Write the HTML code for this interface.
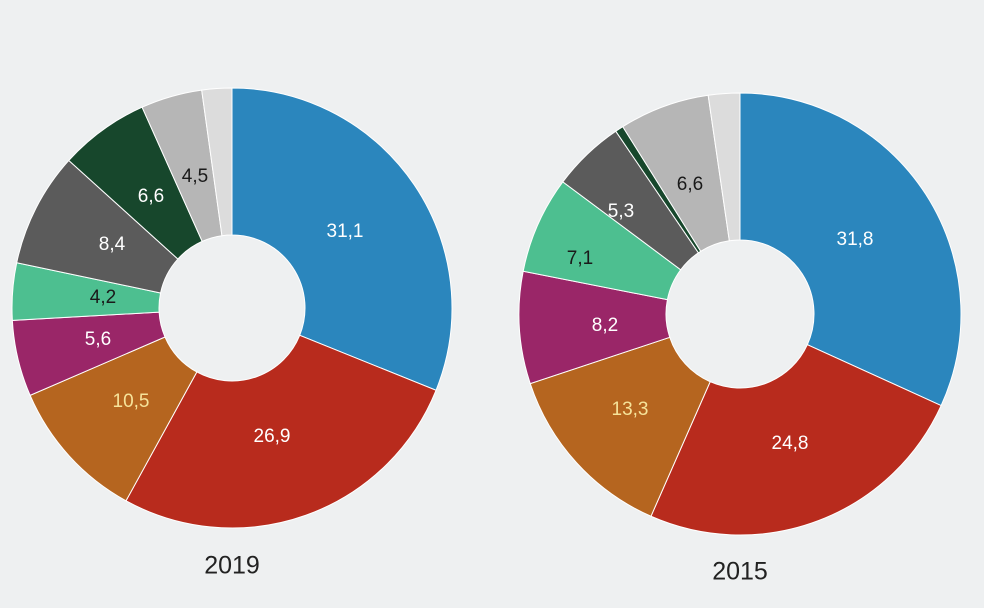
<!DOCTYPE html>
<html><head><meta charset="utf-8"><style>
html,body{margin:0;padding:0;background:#eef0f1;}
svg{display:block}
text{font-family:"Liberation Sans",sans-serif;}
</style></head><body>
<svg id="s" width="984" height="608" viewBox="0 0 984 608">
<rect width="984" height="608" fill="#eef0f1"/>
<g id="g"></g>
<g font-size="19" text-anchor="middle" dominant-baseline="middle">
<text x="345" y="232" fill="#fff">31,1</text>
<text x="272" y="437" fill="#fff">26,9</text>
<text x="131" y="402" fill="#f6e39a">10,5</text>
<text x="98" y="340" fill="#fff">5,6</text>
<text x="103" y="298" fill="#1a1a1a">4,2</text>
<text x="112" y="245" fill="#fff">8,4</text>
<text x="151" y="197" fill="#fff">6,6</text>
<text x="195" y="177" fill="#1a1a1a">4,5</text>
<text x="855" y="240" fill="#fff">31,8</text>
<text x="790" y="444" fill="#fff">24,8</text>
<text x="630" y="410" fill="#f6e39a">13,3</text>
<text x="605" y="326" fill="#fff">8,2</text>
<text x="580" y="259" fill="#1a1a1a">7,1</text>
<text x="621" y="212" fill="#fff">5,3</text>
<text x="690" y="185" fill="#1a1a1a">6,6</text>
</g>
<text x="232" y="567" font-size="25" text-anchor="middle" dominant-baseline="middle" fill="#222">2019</text>
<text x="740" y="573" font-size="25" text-anchor="middle" dominant-baseline="middle" fill="#222">2015</text>
</svg>
<script>
var cols=["#2b86bd","#b82b1d","#b5651f","#9a2668","#4dbf90","#5b5b5b","#17472c","#b6b6b6","#dcdcdc"];
function donut(cx,cy,R,r,vals){
 var tot=vals.reduce((a,b)=>a+b,0),a=0,out="";
 vals.forEach(function(v,i){
  var a0=a/tot*2*Math.PI,a1=(a+v)/tot*2*Math.PI;a+=v;
  function p(rr,t){return [cx+rr*Math.sin(t),cy-rr*Math.cos(t)];}
  var P1=p(R,a0),P2=p(R,a1),P3=p(r,a1),P4=p(r,a0),L=(a1-a0)>Math.PI?1:0;
  out+='<path d="M'+P1+' A'+R+','+R+' 0 '+L+' 1 '+P2+' L'+P3+' A'+r+','+r+' 0 '+L+' 0 '+P4+'Z" fill="'+cols[i]+'" stroke="#fff" stroke-width="1"/>';
 });
 return out;
}
document.getElementById("g").innerHTML=
 donut(232,308,220,73,[31.1,26.9,10.5,5.6,4.2,8.4,6.6,4.5,2.2])+
 donut(740,314,221,74,[31.8,24.8,13.3,8.2,7.1,5.3,0.6,6.6,2.3]);
</script>
</body></html>
